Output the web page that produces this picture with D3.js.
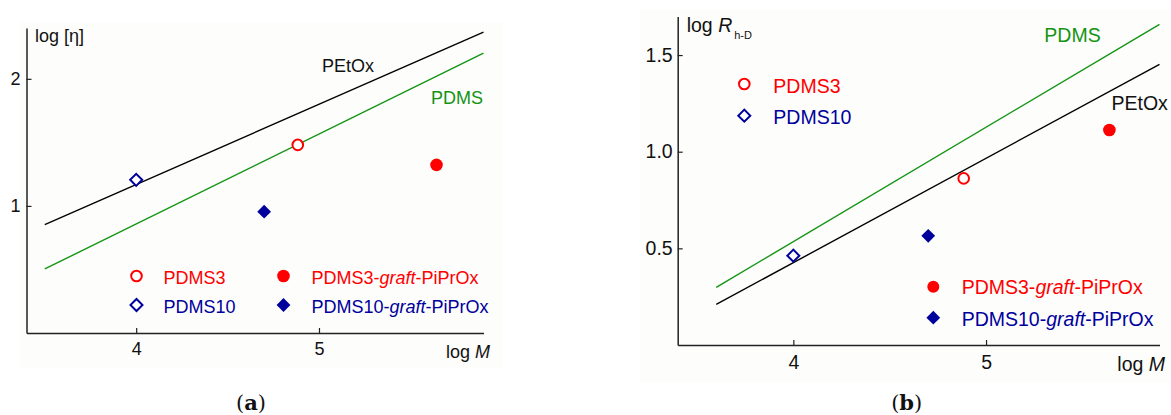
<!DOCTYPE html>
<html>
<head>
<meta charset="utf-8">
<script src="https://cdn.jsdelivr.net/npm/d3@7"></script>
<style>
  html, body { margin: 0; padding: 0; background: #fff; }
  svg { display: block; }
  text { font-family: "Liberation Sans", Arial, sans-serif; }
</style>
</head>
<body>
<svg id="chart" width="1171" height="415"></svg>
<script>
// ---------------- data ----------------
const xDomain = [3.4, 5.9];

// Panel (a): log [eta] vs log M
const aTicksX = [4, 5];
const aTicksY = [1, 2];
const aYDomain = [0, 2.4];
const aLinePEtOx = [[3.5, 0.853], [5.9, 2.368]];
const aLinePDMS  = [[3.5, 0.504], [5.9, 2.202]];
const aPDMS3      = [4.884, 1.48];
const aPDMS3graft = [5.643, 1.323];
const aPDMS10     = [4.00, 1.205];
const aPDMS10graft= [4.70, 0.955];

// Panel (b): log R_h-D vs log M
const bTicksX = [4, 5];
const bTicksY = [0.5, 1.0, 1.5];
const bYDomain = [0, 1.7];
const bLinePDMS  = [[3.6, 0.298], [5.9, 1.659]];
const bLinePEtOx = [[3.6, 0.210], [5.9, 1.452]];
const bPDMS3      = [4.884, 0.862];
const bPDMS3graft = [5.64, 1.112];
const bPDMS10     = [4.00, 0.462];
const bPDMS10graft= [4.70, 0.565];

// ---------------- styles ----------------
const RED = "#ff0000", BLUE = "#00009c", GREEN = "#149414", BLACK = "#000";

const svg = d3.select("#chart");

function marker(g, kind, x, y, scale) {
  const s = scale || 1;
  if (kind === "openCircle") {
    g.append("circle").attr("cx", x).attr("cy", y).attr("r", 5.3 * s)
      .attr("fill", "#fff").attr("stroke", RED).attr("stroke-width", 2);
  } else if (kind === "fillCircle") {
    g.append("circle").attr("cx", x).attr("cy", y).attr("r", 6.3 * s)
      .attr("fill", RED);
  } else if (kind === "openDiamond") {
    g.append("path").attr("d", d3.symbol(d3.symbolSquare, 72 * s * s)())
      .attr("transform", `translate(${x},${y}) rotate(45)`)
      .attr("fill", "#fff").attr("stroke", BLUE).attr("stroke-width", 2);
  } else if (kind === "fillDiamond") {
    g.append("path").attr("d", d3.symbol(d3.symbolSquare, 95 * s * s)())
      .attr("transform", `translate(${x},${y}) rotate(45)`)
      .attr("fill", BLUE);
  }
}

function panel(cfg) {
  const g = svg.append("g");
  g.append("rect").attr("x", cfg.bg[0]).attr("y", cfg.bg[1])
    .attr("width", cfg.bg[2]).attr("height", cfg.bg[3]).attr("fill", "#fdfdfc");

  const x = d3.scaleLinear().domain(xDomain).range(cfg.xRange);
  const y = d3.scaleLinear().domain(cfg.yDomain).range(cfg.yRange);

  const xAxis = d3.axisBottom(x).tickValues(cfg.ticksX).tickFormat(d3.format("d"))
    .tickSizeInner(-5).tickSizeOuter(0).tickPadding(cfg.xPad);
  const yAxis = d3.axisLeft(y).tickValues(cfg.ticksY).tickFormat(cfg.yFmt)
    .tickSizeInner(-5).tickSizeOuter(0).tickPadding(cfg.yPad);

  const gx = g.append("g").attr("transform", `translate(0,${cfg.yRange[0]})`).call(xAxis);
  const gy = g.append("g").attr("transform", `translate(${cfg.xRange[0]},0)`).call(yAxis);
  [gx, gy].forEach(a => {
    a.selectAll("path.domain").attr("stroke", "#222").attr("stroke-width", 1.5);
    a.selectAll(".tick line").attr("stroke", "#222").attr("stroke-width", 1.2);
    a.selectAll(".tick text").attr("fill", "#111").style("font-size", cfg.fs + "px")
      .style("font-family", '"Liberation Sans", Arial, sans-serif');
  });

  const line = d3.line().x(d => x(d[0])).y(d => y(d[1]));
  cfg.lines.forEach(l => {
    g.append("path").datum(l.data).attr("d", line).attr("fill", "none")
      .attr("stroke", l.color).attr("stroke-width", 1.4);
  });

  cfg.points.forEach(p => marker(g, p.kind, x(p.d[0]), y(p.d[1]), cfg.ms));
  return g;
}

// ---------- Panel (a) ----------
const ga = panel({
  bg: [20, 22, 482, 346],
  xRange: [26.5, 483.5], yRange: [333, 28], yDomain: aYDomain,
  ticksX: aTicksX, ticksY: aTicksY, yFmt: d3.format("d"),
  xPad: 9, yPad: 6, fs: 18, ms: 1,
  lines: [{data: aLinePEtOx, color: BLACK}, {data: aLinePDMS, color: GREEN}],
  points: [
    {kind: "openCircle", d: aPDMS3},
    {kind: "fillCircle", d: aPDMS3graft},
    {kind: "openDiamond", d: aPDMS10},
    {kind: "fillDiamond", d: aPDMS10graft}
  ]
});
ga.append("text").attr("x", 35).attr("y", 42).style("font-size", "18px").attr("fill", "#111")
  .text("log [η]");
ga.append("text").attr("x", 322).attr("y", 72).style("font-size", "18px").attr("fill", "#111")
  .text("PEtOx");
ga.append("text").attr("x", 431).attr("y", 104).style("font-size", "18px").attr("fill", GREEN)
  .text("PDMS");
{
  const t = ga.append("text").attr("x", 490).attr("y", 358).attr("text-anchor", "end")
    .style("font-size", "18px").attr("fill", "#111");
  t.append("tspan").text("log ");
  t.append("tspan").style("font-style", "italic").text("M");
}
// legend (a)
marker(ga, "openCircle", 136.5, 276, 1);
marker(ga, "openDiamond", 136.5, 305, 1);
marker(ga, "fillCircle", 283.5, 276, 1);
marker(ga, "fillDiamond", 283.5, 305, 1);
function legText(g, x, y, fs, color, parts) {
  const t = g.append("text").attr("x", x).attr("y", y).style("font-size", fs + "px").attr("fill", color);
  parts.forEach(p => {
    const s = t.append("tspan").text(p[0]);
    if (p[1]) s.style("font-style", "italic");
  });
}
legText(ga, 163.5, 283.5, 18, RED, [["PDMS3"]]);
legText(ga, 163.5, 313, 18, BLUE, [["PDMS10"]]);
legText(ga, 311.5, 283.5, 18, RED, [["PDMS3-"], ["graft", true], ["-PiPrOx"]]);
legText(ga, 311.5, 313, 18, BLUE, [["PDMS10-"], ["graft", true], ["-PiPrOx"]]);

// ---------- Panel (b) ----------
const gb = panel({
  bg: [640, 10, 530, 373],
  xRange: [677.7, 1159.5], yRange: [345, 16.4], yDomain: bYDomain,
  ticksX: bTicksX, ticksY: bTicksY, yFmt: d3.format(".1f"),
  xPad: 10, yPad: 5, fs: 19.5, ms: 1,
  lines: [{data: bLinePDMS, color: GREEN}, {data: bLinePEtOx, color: BLACK}],
  points: [
    {kind: "openCircle", d: bPDMS3},
    {kind: "fillCircle", d: bPDMS3graft},
    {kind: "openDiamond", d: bPDMS10},
    {kind: "fillDiamond", d: bPDMS10graft}
  ]
});
{
  const t = gb.append("text").attr("x", 686.7).attr("y", 31.7).style("font-size", "19.5px").attr("fill", "#111");
  t.append("tspan").text("log ");
  t.append("tspan").style("font-style", "italic").text("R");
  t.append("tspan").attr("dx", 2).attr("dy", 7).style("font-size", "11px").text("h-D");
}
gb.append("text").attr("x", 1044.3).attr("y", 42.3).style("font-size", "19.5px").attr("fill", GREEN)
  .text("PDMS");
gb.append("text").attr("x", 1111.5).attr("y", 110).style("font-size", "19.5px").attr("fill", "#111")
  .text("PEtOx");
{
  const t = gb.append("text").attr("x", 1165).attr("y", 371).attr("text-anchor", "end")
    .style("font-size", "19.5px").attr("fill", "#111");
  t.append("tspan").text("log ");
  t.append("tspan").style("font-style", "italic").text("M");
}
marker(gb, "openCircle", 744.3, 84, 1);
marker(gb, "openDiamond", 744.3, 115.7, 1);
marker(gb, "fillCircle", 933.3, 286.7, 0.95);
marker(gb, "fillDiamond", 933.3, 317.7, 1);
legText(gb, 773.3, 92.7, 19.5, RED, [["PDMS3"]]);
legText(gb, 773.3, 124, 19.5, BLUE, [["PDMS10"]]);
legText(gb, 961.7, 294, 19.5, RED, [["PDMS3-"], ["graft", true], ["-PiPrOx"]]);
legText(gb, 961.7, 326, 19.5, BLUE, [["PDMS10-"], ["graft", true], ["-PiPrOx"]]);

// ---------- captions ----------
function caption(x, letter) {
  const t = svg.append("text").attr("x", x).attr("y", 410).attr("text-anchor", "middle")
    .style("font-family", '"DejaVu Serif", "Liberation Serif", serif').style("font-size", "21px")
    .attr("fill", "#111");
  t.append("tspan").text("(");
  t.append("tspan").style("font-weight", "bold").text(letter);
  t.append("tspan").text(")");
}
caption(251, "a");
caption(906.7, "b");
</script>
</body>
</html>
